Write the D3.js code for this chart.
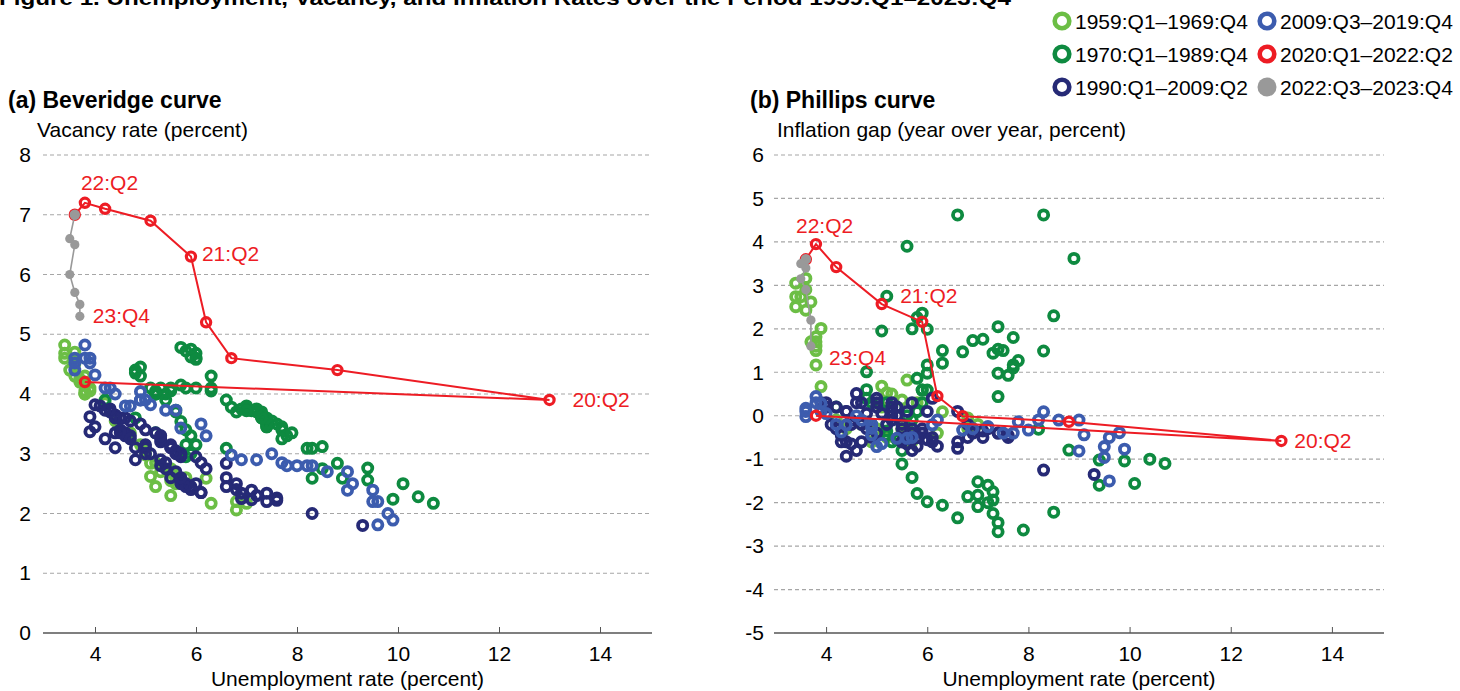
<!DOCTYPE html>
<html>
<head>
<meta charset="utf-8">
<script src="https://cdn.jsdelivr.net/npm/d3@7"></script>
<style>
  body { margin: 0; background: #fff; }
  svg text { font-family: "Liberation Sans", Arial, Helvetica, sans-serif; }
</style>
</head>
<body>
<div id="chart"></div>
<script>
// period labels for the legend
var periodLabels = ["1959:Q1–1969:Q4", "1970:Q1–1989:Q4", "1990:Q1–2009:Q2",
  "2009:Q3–2019:Q4", "2020:Q1–2022:Q2", "2022:Q3–2023:Q4"];

// 1959:Q1-1969:Q4 unemployment, vacancy, inflation gap
var u1959 = [5.8,5.1,5.3,5.6, 5.1,5.2,5.5,6.3, 6.8,7.0,6.8,6.2, 5.6,5.5,5.6,5.5, 5.8,5.7,5.5,5.6,
  5.5,5.2,5.0,5.0, 4.9,4.7,4.4,4.2, 3.9,3.8,3.8,3.7, 3.8,3.8,3.8,3.9, 3.7,3.6,3.5,3.4, 3.4,3.4,3.6,3.6];
var v1959 = [2.6,2.84,2.7,2.5, 2.62,2.45,2.3,2.17, 2.06,2.17,2.2,2.59, 2.6,2.7,2.6,2.55, 2.5,2.55,2.6,2.65,
  2.75,2.85,2.98,3.05, 3.15,3.35,3.55,3.85, 4.1,4.3,4.2,4.25, 4.05,4.0,4.0,4.05, 4.2,4.3,4.4,4.6, 4.68,4.82,4.7,4.5];
var g1959 = [0.3,0.2,0.5,0.82, 0.68,0.53,0.36,0.09, -0.05,-0.2,-0.3,-0.4, -0.3,-0.2,-0.35,-0.3, -0.5,-0.6,-0.4,-0.3,
  -0.3,-0.5,-0.4,-0.3, -0.6,-0.2,-0.3,-0.1, 0.67,1.17,1.82,1.7, 1.7,1.6,1.5,2.01, 2.62,2.43,2.74,2.51, 3.05,2.74,3.16,2.9];

// 1970:Q1-1989:Q4
var u1970 = [4.2,4.8,5.2,5.8, 5.8,5.9,6.0,5.9, 5.8,5.7,5.6,5.4, 4.9,4.9,4.8,4.8, 5.1,5.2,5.6,6.6,
  8.3,8.9,8.5,8.3, 7.7,7.6,7.7,7.8, 7.5,7.1,6.9,6.7, 6.3,6.0,6.0,5.9, 5.8,5.7,5.9,6.0,
  6.3,7.3,7.7,7.4, 7.4,7.4,7.4,8.2, 8.8,9.4,9.9,10.7, 10.4,10.1,9.4,8.5, 7.9,7.4,7.4,7.3,
  7.3,7.3,7.2,7.0, 7.0,7.2,7.0,6.8, 6.6,6.3,6.0,5.8, 5.7,5.5,5.5,5.3, 5.2,5.2,5.2,5.4];
var v1970 = [3.9,3.6,3.35,3.15, 2.95,3.0,3.15,3.3, 3.4,3.54,3.73,4.0, 4.3,4.45,4.4,4.35, 4.1,4.0,3.7,3.09,
  2.59,2.59,2.75,3.09, 3.45,3.5,3.4,3.3, 3.55,3.72,3.75,3.78, 4.3,4.6,4.68,4.75, 4.72,4.78,4.62,4.58,
  4.1,3.6,3.25,3.45, 3.55,3.5,3.45,3.09, 2.84,2.76,2.24,2.17, 2.28,2.5,2.56,3.12, 3.35,3.5,3.6,3.65,
  3.7,3.6,3.7,3.75, 3.8,3.75,3.72,3.7, 3.9,4.05,4.1,4.1, 4.15,4.1,4.05,4.1, 4.05,4.0,4.0,3.9];
var g1970 = [0.2,0.4,0.3,0.1, 0.86,0.59,0.59,0.3, 0.1,-0.1,0.0,0.2, -0.2,0.3,0.6,1.01, 1.95,2.75,3.9,4.62,
  4.62,3.62,2.3,1.49, 1.17,0.93,1.1,1.27, 1.5,1.76,1.73,1.47, 1.21,0.98,1.17,0.59, 2.26,2.0,2.36,1.99,
  1.5,1.44,1.8,2.05, 1.53,0.98,0.44,-0.31, -0.79,-1.02,-1.04,-1.1, -1.0,-1.56,-1.6,-2.22, -2.63,-2.67,-2.46,-2.25,
  -1.94,-1.75,-1.6,-1.52, -1.83,-2.0,-2.09,-1.86, -2.35,-2.06,-1.98,-1.79, -1.42,-1.11,-0.8,-0.6, -0.35,-0.2,-0.45,-0.55];

// 1990:Q1-2009:Q2
var u1990 = [5.3,5.3,5.7,6.1, 6.6,6.8,6.9,7.1, 7.4,7.6,7.6,7.4, 7.2,7.1,6.8,6.6, 6.6,6.2,6.0,5.6,
  5.5,5.7,5.7,5.6, 5.5,5.5,5.3,5.3, 5.2,5.0,4.9,4.7, 4.6,4.4,4.5,4.4, 4.3,4.3,4.2,4.1,
  4.0,3.9,4.0,3.9, 4.2,4.4,4.8,5.5, 5.7,5.8,5.7,5.9, 5.9,6.1,6.1,5.8, 5.7,5.6,5.4,5.4,
  5.3,5.1,5.0,5.0, 4.7,4.6,4.6,4.4, 4.5,4.5,4.7,4.8, 5.0,5.3,6.0,6.9, 8.3,9.3];
var v1990 = [3.3,3.2,3.0,2.85, 2.84,2.5,2.34,2.39, 2.34,2.26,2.22,2.2, 2.3,2.23,2.4,2.6, 2.45,2.75,2.95,3.05,
  3.1,3.0,2.95,3.0, 3.1,3.15,3.25,3.3, 3.35,3.4,3.5,3.55, 3.6,3.65,3.6,3.6, 3.7,3.75,3.73,3.8,
  3.82,3.62,3.45,3.37, 3.25,3.1,2.9,2.6, 2.55,2.5,2.5,2.45, 2.4,2.35,2.35,2.45, 2.6,2.7,2.75,2.85,
  2.9,3.0,3.1,3.15, 3.3,3.35,3.3,3.35, 3.4,3.35,3.25,3.1, 3.0,2.8,2.5,2.25, 2.0,1.8];
var g1990 = [0.1,0.0,0.3,0.4, 0.1,-0.2,-0.4,-0.5, -0.4,-0.45,-0.5,-0.4, -0.3,-0.35,-0.5,-0.6, -0.75,-0.7,-0.55,-0.65,
  -0.6,-0.4,-0.5,-0.5, -0.3,-0.2,-0.1,0.1, -0.2,-0.4,-0.5,-0.6, -0.8,-0.6,-0.65,-0.93, -0.6,-0.45,-0.3,-0.2,
  0.2,0.3,0.3,0.15, 0.2,0.1,-0.3,-0.6, -0.8,-0.7,-0.55,-0.4, -0.3,-0.5,-0.6,-0.5, -0.3,0.1,0.0,0.2,
  0.2,0.05,0.4,0.3, 0.3,0.51,0.3,0.1, -0.2,-0.1,-0.2,0.05, 0.2,0.3,0.1,-0.3, -1.25,-1.35];

// 2009:Q3-2019:Q4
var u2009 = [9.6,9.9, 9.8,9.6,9.5,9.5, 9.0,9.1,9.0,8.6, 8.3,8.2,8.0,7.8, 7.7,7.5,7.2,6.9, 6.7,6.2,6.1,5.7,
  5.6,5.4,5.1,5.0, 4.9,4.9,4.9,4.7, 4.6,4.4,4.3,4.2, 4.0,3.9,3.8,3.8, 3.9,3.6,3.6,3.6];
var v2009 = [1.81,1.89, 2.0,2.2,2.2,2.39, 2.39,2.5,2.7,2.7, 2.8,2.8,2.8,2.8, 2.85,3.0,2.9,2.9, 2.98,3.3,3.5,3.43,
  3.73,3.73,3.82,3.9, 3.9,4.04,3.9,3.8, 3.8,4.0,4.1,4.1, 4.32,4.52,4.6,4.82, 4.6,4.52,4.6,4.4];
var g2009 = [-1.5,-0.77, -0.39,-0.5,-0.71,-0.96, -0.81,-0.44,-0.1,-0.1, 0.09,-0.1,-0.33,-0.14, -0.4,-0.4,-0.25,-0.3,
  -0.33,-0.1,-0.21,-0.5, -0.52,-0.52,-0.64,-0.71, -0.44,-0.29,-0.2,-0.1, 0.0,-0.21,-0.37,-0.2, 0.05,0.28,0.44,0.3,
  0.1,0.17,-0.02,0.1];

// 2020:Q1-2022:Q2 (connected)
var u2020 = [3.8,13.0,8.8,6.7, 6.2,5.9,5.1,4.2, 3.8,3.6];
var v2020 = [4.2,3.9,4.4,4.6, 5.2,6.3,6.9,7.1, 7.2,7.0];
var g2020 = [0.0,-0.58,-0.14,-0.01, 0.45,2.16,2.57,3.42, 3.95,3.6];

// 2022:Q3-2023:Q4 (connected)
var u2022 = [3.5,3.6,3.5,3.6,3.7,3.7];
var v2022 = [6.6,6.5,6.0,5.7,5.5,5.3];
var g2022 = [3.5,3.4,3.15,2.9,2.2,1.6];

// tick values
var xTicks = [4, 6, 8, 10, 12, 14];
var yTicksA = [0, 1, 2, 3, 4, 5, 6, 7, 8];
var yTicksB = [-5, -4, -3, -2, -1, 0, 1, 2, 3, 4, 5, 6];

// point labels: text and which quarter of 2020-2023 they belong to
var labelsA = [
  { text: "22:Q2", set: "red", idx: 8, dx: -4, dy: -13 },
  { text: "21:Q2", set: "red", idx: 5, dx: 11, dy: 4 },
  { text: "23:Q4", set: "gray", idx: 5, dx: 13, dy: 7 },
  { text: "20:Q2", set: "red", idx: 1, dx: 23, dy: 7 }
];
var labelsB = [
  { text: "22:Q2", set: "red", idx: 8, dx: -20, dy: -11 },
  { text: "21:Q2", set: "red", idx: 5, dx: -22, dy: -19 },
  { text: "23:Q4", set: "gray", idx: 5, dx: 18, dy: 19 },
  { text: "20:Q2", set: "red", idx: 1, dx: 13, dy: 7 }
];

var colors = ["#6cbe45", "#0e8a40", "#262a76", "#3c5cae", "#ed1c24", "#999999"];
var red = colors[4], gray = colors[5];
var W = 1460, H = 691;

function zip(u, v, g) {
  return u.map(function (d, i) { return { u: d, v: v[i], g: g[i] }; });
}
var scatterSets = [zip(u1959, v1959, g1959), zip(u1970, v1970, g1970),
  zip(u1990, v1990, g1990), zip(u2009, v2009, g2009)];
var redPts = zip(u2020, v2020, g2020);
var grayPts = [redPts[redPts.length - 1]].concat(zip(u2022, v2022, g2022));

var svg = d3.select("#chart").append("svg")
  .attr("width", W).attr("height", H);

// figure title (the reference shows it cut at the top edge)
svg.append("text")
  .attr("x", -1).attr("y", 5)
  .attr("font-size", 20).attr("font-weight", "bold")
  .attr("textLength", 1012).attr("lengthAdjust", "spacingAndGlyphs")
  .text("Figure 1. Unemployment, Vacancy, and Inflation Rates over the Period 1959:Q1–2023:Q4");

function drawPanel(opt) {
  var x = d3.scaleLinear().domain([3, 15]).range(opt.xRange);
  var y = d3.scaleLinear().domain(opt.yDomain).range([633, 155]);
  var g = svg.append("g");
  var key = opt.key;

  g.append("text").attr("x", opt.titleX).attr("y", 108)
    .attr("font-size", 23).attr("font-weight", "bold").text(opt.title);
  g.append("text").attr("x", opt.subX).attr("y", 137)
    .attr("font-size", 21).text(opt.subtitle);

  // dashed gridlines
  g.append("g").selectAll("line")
    .data(opt.yTicks.slice(1))
    .enter().append("line")
    .attr("x1", x.range()[0] - 1.5).attr("x2", x.range()[1] + 1.5)
    .attr("y1", function (d) { return y(d); }).attr("y2", function (d) { return y(d); })
    .attr("stroke", "#a6a6a6").attr("stroke-width", 1.2).attr("stroke-dasharray", "4,3");

  // y tick labels (plain hyphen for negatives, as in the reference)
  var yAxis = g.append("g")
    .attr("transform", "translate(" + opt.yLabelX + ",0)")
    .call(d3.axisLeft(y).tickValues(opt.yTicks).tickSize(0).tickPadding(0)
      .tickFormat(function (d) { return String(d); }));
  yAxis.select(".domain").remove();
  yAxis.selectAll("text").attr("font-size", 21).attr("fill", "#000")
    .style("font-family", "'Liberation Sans', Arial, sans-serif");

  // x axis at bottom, ticks pointing up
  var xAxis = g.append("g")
    .attr("transform", "translate(0,633)")
    .call(d3.axisBottom(x).tickValues(xTicks).tickSizeInner(-6).tickSizeOuter(0).tickPadding(13));
  xAxis.select(".domain").attr("stroke", "#555").attr("stroke-width", 1.3)
    .attr("d", "M" + (x.range()[0] - 1.5) + ",0H" + (x.range()[1] + 1.5));
  xAxis.selectAll(".tick line").attr("stroke", "#555");
  xAxis.selectAll("text").attr("font-size", 21).attr("fill", "#000")
    .style("font-family", "'Liberation Sans', Arial, sans-serif");

  g.append("text")
    .attr("x", (x.range()[0] + x.range()[1]) / 2).attr("y", 686)
    .attr("text-anchor", "middle").attr("font-size", 21)
    .text("Unemployment rate (percent)");

  // scatter rings by period
  scatterSets.forEach(function (set, k) {
    g.append("g").selectAll("circle")
      .data(set)
      .enter().append("circle")
      .attr("cx", function (d) { return x(d.u); })
      .attr("cy", function (d) { return y(d[key]); })
      .attr("r", 4.6)
      .attr("fill", "none")
      .attr("stroke", colors[k])
      .attr("stroke-width", 3.8);
  });

  var line = d3.line()
    .x(function (d) { return x(d.u); })
    .y(function (d) { return y(d[key]); });

  // 2020-2022 path
  g.append("path").datum(redPts)
    .attr("d", line).attr("fill", "none")
    .attr("stroke", red).attr("stroke-width", 2);
  g.append("g").selectAll("circle")
    .data(redPts).enter().append("circle")
    .attr("cx", function (d) { return x(d.u); })
    .attr("cy", function (d) { return y(d[key]); })
    .attr("r", 4.6).attr("fill", "none")
    .attr("stroke", red).attr("stroke-width", 3.2);

  // 2022-2023 path
  g.append("path").datum(grayPts)
    .attr("d", line).attr("fill", "none")
    .attr("stroke", gray).attr("stroke-width", 1.6);
  g.append("g").selectAll("circle")
    .data(grayPts).enter().append("circle")
    .attr("cx", function (d) { return x(d.u); })
    .attr("cy", function (d) { return y(d[key]); })
    .attr("r", function (d, i) { return i === 0 ? 5.2 : 4.6; })
    .attr("fill", gray);

  // point labels
  g.append("g").selectAll("text")
    .data(opt.labels).enter().append("text")
    .attr("x", function (d) {
      var p = d.set === "red" ? redPts[d.idx] : grayPts[d.idx + 1];
      return x(p.u) + d.dx;
    })
    .attr("y", function (d) {
      var p = d.set === "red" ? redPts[d.idx] : grayPts[d.idx + 1];
      return y(p[key]) + d.dy;
    })
    .attr("font-size", 21).attr("fill", red)
    .text(function (d) { return d.text; });
}

drawPanel({
  key: "v", xRange: [44.5, 650.5], yDomain: [0, 8], yTicks: yTicksA,
  title: "(a) Beveridge curve", titleX: 8, subtitle: "Vacancy rate (percent)", subX: 37,
  yLabelX: 31, labels: labelsA
});
drawPanel({
  key: "g", xRange: [775.5, 1382.5], yDomain: [-5, 6], yTicks: yTicksB,
  title: "(b) Phillips curve", titleX: 750, subtitle: "Inflation gap (year over year, percent)", subX: 777,
  yLabelX: 764, labels: labelsB
});

// legend, two columns of three
var legend = svg.append("g");
var items = legend.selectAll("g")
  .data(periodLabels)
  .enter().append("g")
  .attr("transform", function (d, i) {
    var col = Math.floor(i / 3), row = i % 3;
    return "translate(" + (1062 + col * 205) + "," + (21 + row * 33) + ")";
  });
items.append("circle")
  .attr("r", function (d, i) { return i === 5 ? 9.5 : 7.3; })
  .attr("fill", function (d, i) { return i === 5 ? colors[i] : "none"; })
  .attr("stroke", function (d, i) { return i === 5 ? "none" : colors[i]; })
  .attr("stroke-width", 4.6);
items.append("text")
  .attr("x", 13).attr("y", 7.5)
  .attr("font-size", 21)
  .text(function (d) { return d; });
</script>
</body>
</html>
